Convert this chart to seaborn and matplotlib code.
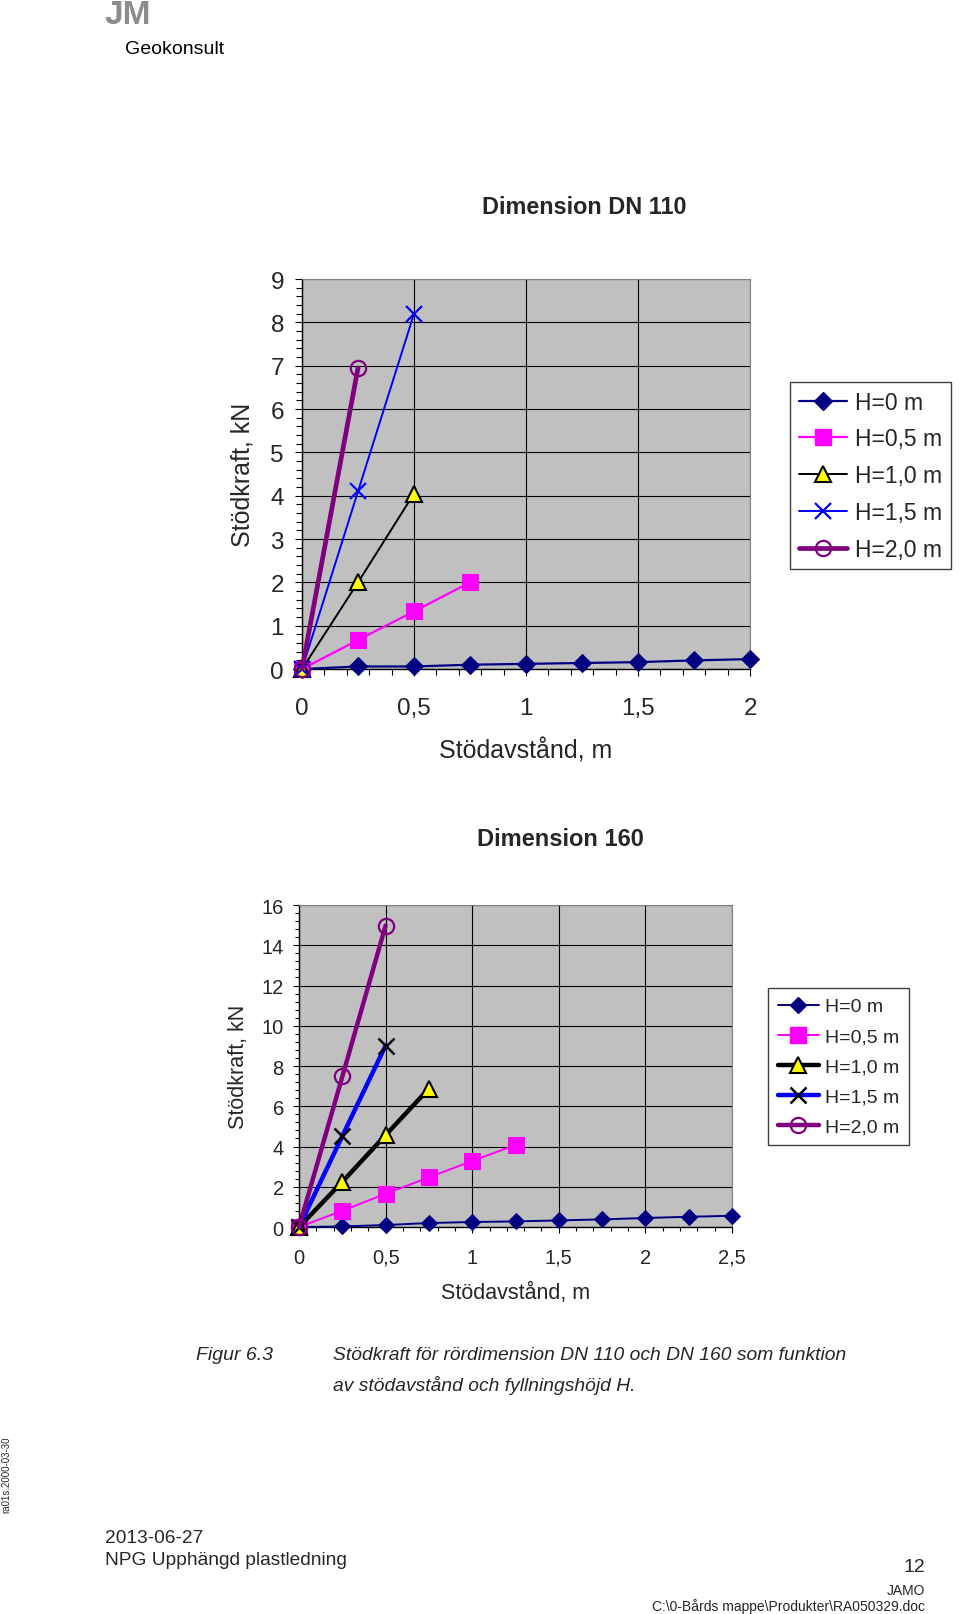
import matplotlib
matplotlib.use('Agg')
import matplotlib.pyplot as plt
import seaborn as sns
from matplotlib.lines import Line2D
from matplotlib.ticker import MultipleLocator, FuncFormatter

# Dimension DN 110 - stödavstånd (m) och stödkraft (kN)
x110_h00 = [0, 0.25, 0.5, 0.75, 1.0, 1.25, 1.5, 1.75, 2.0]
y110_h00 = [0, 0.06, 0.06, 0.1, 0.12, 0.14, 0.16, 0.2, 0.23]
x110_h05 = [0, 0.25, 0.5, 0.75]
y110_h05 = [0, 0.67, 1.33, 2.0]
x110_h10 = [0, 0.25, 0.5]
y110_h10 = [0, 2.0, 4.05]
x110_h15 = [0, 0.25, 0.5]
y110_h15 = [0, 4.1, 8.2]
x110_h20 = [0, 0.25]
y110_h20 = [0, 6.95]

# Dimension 160
x160_h00 = [0, 0.25, 0.5, 0.75, 1.0, 1.25, 1.5, 1.75, 2.0, 2.25, 2.5]
y160_h00 = [0, 0.03, 0.1, 0.2, 0.25, 0.28, 0.33, 0.38, 0.45, 0.51, 0.56]
x160_h05 = [0, 0.25, 0.5, 0.75, 1.0, 1.25]
y160_h05 = [0, 0.81, 1.65, 2.47, 3.28, 4.08]
x160_h10 = [0, 0.25, 0.5, 0.75]
y160_h10 = [0, 2.25, 4.57, 6.88]
x160_h15 = [0, 0.25, 0.5]
y160_h15 = [0, 4.52, 9.02]
x160_h20 = [0, 0.25, 0.5]
y160_h20 = [0, 7.48, 14.98]

labels = ['H=0 m', 'H=0,5 m', 'H=1,0 m', 'H=1,5 m', 'H=2,0 m']

navy, mag, blue, purp = '#000080', '#FF00FF', '#0000FF', '#800080'

sty110 = [
    dict(color=navy, lw=1.6, marker='D', ms=9, mfc=navy, mec=navy),
    dict(color=mag, lw=1.6, marker='s', ms=12, mfc=mag, mec=mag),
    dict(color='black', lw=1.4, marker='^', ms=12, mfc='#FFFF00', mec='black', mew=1.5),
    dict(color=blue, lw=1.4, marker='x', ms=12, mec=blue, mew=1.6),
    dict(color=purp, lw=3.4, marker='o', ms=11, mfc='none', mec=purp, mew=1.6),
]
sty160 = [
    dict(color=navy, lw=1.4, marker='D', ms=8.5, mfc=navy, mec=navy),
    dict(color=mag, lw=1.4, marker='s', ms=12, mfc=mag, mec=mag),
    dict(color='black', lw=3.2, marker='^', ms=12, mfc='#FFFF00', mec='black', mew=1.5),
    dict(color=blue, lw=3.2, marker='x', ms=12, mec='black', mew=1.8),
    dict(color=purp, lw=3.2, marker='o', ms=11, mfc='none', mec=purp, mew=1.6),
]

sns.set_style('white')
plt.rcParams['font.family'] = ['Liberation Sans', 'DejaVu Sans']
narrow = ['Liberation Sans Narrow', 'Liberation Sans', 'DejaVu Sans']

komma = FuncFormatter(lambda v, p: f'{v:g}'.replace('.', ','))


def rita(ax, data, stilar, xmax, ymax, xminor, yminor, ymajor, fs, tlen, xpad, ypad):
    ax.set_facecolor('#C0C0C0')
    for (xs, ys), st in zip(data, stilar):
        sns.lineplot(x=xs, y=ys, ax=ax, estimator=None, legend=False,
                     clip_on=False, zorder=3, **st)
    ax.set_xlim(0, xmax)
    ax.set_ylim(0, ymax)
    ax.xaxis.set_major_locator(MultipleLocator(0.5))
    ax.xaxis.set_minor_locator(MultipleLocator(xminor))
    ax.yaxis.set_major_locator(MultipleLocator(ymajor))
    ax.yaxis.set_minor_locator(MultipleLocator(yminor))
    ax.xaxis.set_major_formatter(komma)
    ax.grid(True, which='major', color='black', lw=0.8)
    ax.set_axisbelow(True)
    ax.tick_params(which='both', direction='out', bottom=True, left=True,
                   color='black', width=0.8)
    ax.tick_params(which='major', length=tlen, labelsize=fs)
    ax.tick_params(which='minor', length=tlen * 0.8)
    ax.tick_params(axis='x', which='major', pad=xpad)
    ax.tick_params(axis='y', which='major', pad=ypad)
    for s in ['top', 'right']:
        ax.spines[s].set_color('#808080')
    for s in ['left', 'bottom']:
        ax.spines[s].set_color('black')
        ax.spines[s].set_linewidth(1.0)


fig = plt.figure(figsize=(9.6, 16.15), dpi=100)

# --- DN 110 ---
ax1 = fig.add_axes([0.3146, 0.5851, 0.4667, 0.2415])
d110 = [(x110_h00, y110_h00), (x110_h05, y110_h05), (x110_h10, y110_h10),
        (x110_h15, y110_h15), (x110_h20, y110_h20)]
rita(ax1, d110, sty110, 2, 9, 0.1, 0.2, 1, 17.5, 5, 15, 8)
ax1.set_xlabel('Stödavstånd, m', fontsize=18, va='center')
ax1.xaxis.set_label_coords(0.5, -0.208)
ax1.set_ylabel('Stödkraft, kN', fontsize=18, va='center')
ax1.yaxis.set_label_coords(-0.132, 0.5)
fig.text(584 / 960, 1 - 208 / 1615, 'Dimension DN 110', fontsize=16.8,
         fontweight='bold', ha='center', va='center')

h1 = [Line2D([], [], **st) for st in sty110]
fig.legend(h1, labels, loc='upper left', bbox_to_anchor=(790 / 960, 1 - 383 / 1615),
           fontsize=16.5, frameon=True, fancybox=False, edgecolor='#404040',
           framealpha=1, numpoints=1, handlelength=2.1, handletextpad=0.35,
           labelspacing=0.6, borderpad=0.38, borderaxespad=0)

# --- Dimension 160 ---
ax2 = fig.add_axes([0.3115, 0.2396, 0.4510, 0.1994])
d160 = [(x160_h00, y160_h00), (x160_h05, y160_h05), (x160_h10, y160_h10),
        (x160_h15, y160_h15), (x160_h20, y160_h20)]
rita(ax2, d160, sty160, 2.5, 16, 0.1, 0.4, 2, 14.5, 4, 11, 7)
ax2.set_xlabel('Stödavstånd, m', fontsize=15.5, va='center')
ax2.xaxis.set_label_coords(0.5, -0.202)
ax2.set_ylabel('Stödkraft, kN', fontsize=15.5, va='center')
ax2.yaxis.set_label_coords(-0.139, 0.5)
fig.text(560 / 960, 1 - 839 / 1615, 'Dimension 160', fontsize=17,
         fontweight='bold', ha='center', va='center')

h2 = [Line2D([], [], **st) for st in sty160]
fig.legend(h2, labels, loc='upper left', bbox_to_anchor=(768 / 960, 1 - 989 / 1615),
           fontsize=14, frameon=True, fancybox=False, edgecolor='#404040',
           framealpha=1, numpoints=1, handlelength=2.1, handletextpad=0.35,
           labelspacing=0.64, borderpad=0.5, borderaxespad=0)

# --- logotyp ---
fig.text(104 / 960, 1 - 0.5 / 1615, 'JM', fontsize=24, fontweight='bold',
         color='#8C8C8C', ha='left', va='top')
fig.text(125 / 960, 1 - 49 / 1615, 'Geokonsult', fontsize=14,
         color='black', ha='left', va='center')

# --- figurtext ---
fig.text(196 / 960, 1 - 1356 / 1615, 'Figur 6.3', fontsize=14, style='italic',
         family=narrow, ha='left', va='center')
fig.text(333 / 960, 1 - 1356 / 1615,
         'Stödkraft för rördimension DN 110 och DN 160 som funktion',
         fontsize=13.9, style='italic', family=narrow, ha='left', va='center')
fig.text(333 / 960, 1 - 1386 / 1615, 'av stödavstånd och fyllningshöjd H.',
         fontsize=13.9, style='italic', family=narrow, ha='left', va='center')

# --- sidfot ---
fig.text(6 / 960, 1 - 1475 / 1615, 'ra01s.2000-03-30', fontsize=7, rotation=90,
         ha='center', va='center')
fig.text(105 / 960, 1 - 1539 / 1615, '2013-06-27', fontsize=13.8, family=narrow,
         ha='left', va='center')
fig.text(105 / 960, 1 - 1561 / 1615, 'NPG Upphängd plastledning', fontsize=13.8,
         family=narrow, ha='left', va='center')
fig.text(925 / 960, 1 - 1568 / 1615, '12', fontsize=14, family=narrow,
         ha='right', va='center')
fig.text(925 / 960, 1 - 1591 / 1615, 'JAMO', fontsize=10, family=narrow,
         ha='right', va='center')
fig.text(925 / 960, 1 - 1607 / 1615, r'C:\0-Bårds mappe\Produkter\RA050329.doc',
         fontsize=10, family=narrow, ha='right', va='center')

fig.savefig('out.png', dpi=100, facecolor='white')
